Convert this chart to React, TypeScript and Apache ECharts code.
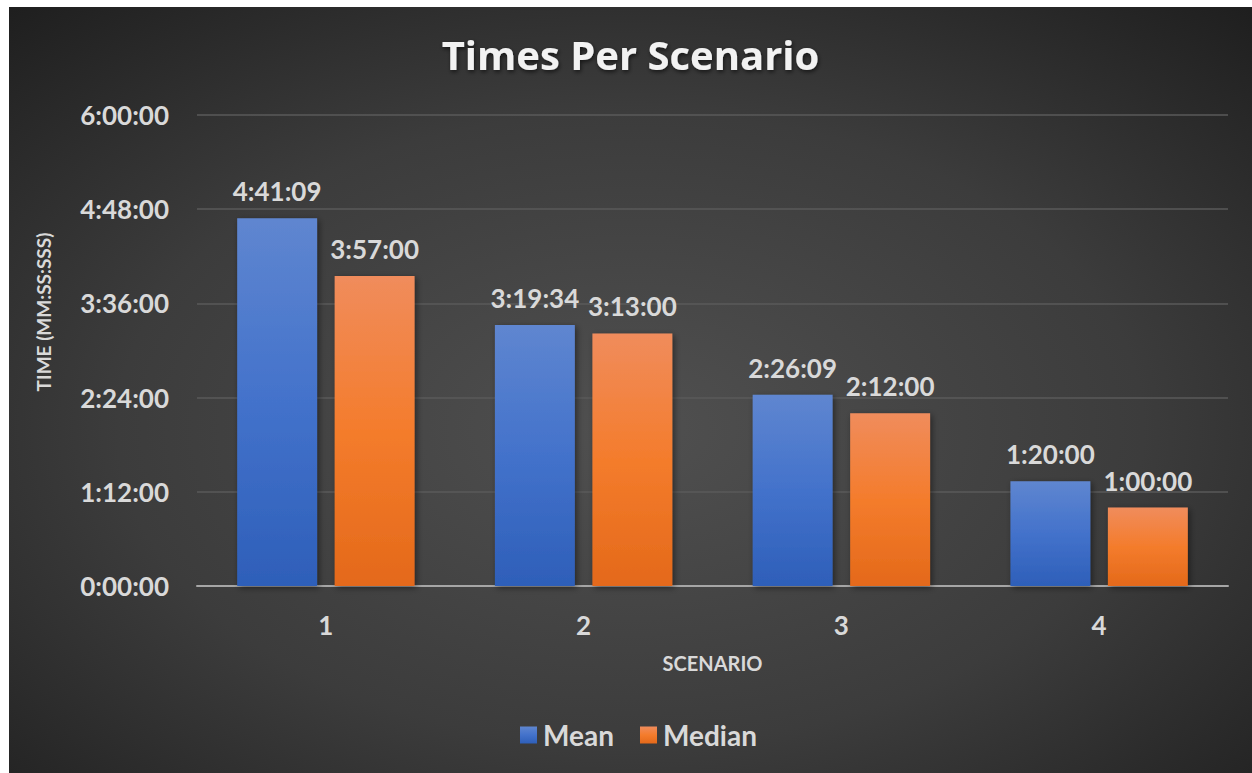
import React, { useEffect, useRef } from "react";
import * as echarts from "echarts";

const categories = ["1", "2", "3", "4"];
// values in seconds
const meanSeconds = [16869, 11974, 8769, 4800];
const medianSeconds = [14220, 11580, 7920, 3600];
const yMin = 0;
const yMax = 21600;
const yInterval = 4320;

function fmt(v: number): string {
  const h = Math.floor(v / 3600);
  const m = Math.floor((v % 3600) / 60);
  const s = Math.round(v % 60);
  return `${h}:${String(m).padStart(2, "0")}:${String(s).padStart(2, "0")}`;
}

const FONT = "Lato";

export default function App() {
  const ref = useRef<HTMLDivElement>(null);
  useEffect(() => {
    if (!ref.current) return;
    const chart = echarts.init(ref.current, null, { renderer: "svg" });
    const labelStyle = {
      show: true,
      position: "top" as const,
      distance: 14,
      color: "#d9d9d9",
      fontFamily: FONT,
      fontWeight: "bold" as const,
      fontSize: 26,
      formatter: (p: any) => fmt(p.value),
    };
    chart.setOption({
      animation: false,
      backgroundColor: new echarts.graphic.RadialGradient(0.5, 0.55, 0.75, [
        { offset: 0, color: "#505050" },
        { offset: 0.55, color: "#3c3c3c" },
        { offset: 1, color: "#1e1e1e" },
      ]),
      title: {
        text: "Times Per Scenario",
        left: "center",
        top: 22,
        textStyle: {
          color: "#f2f2f2",
          fontFamily: "Open Sans",
          fontWeight: "bold",
          fontSize: 40,
          textShadowColor: "rgba(0,0,0,0.6)",
          textShadowBlur: 4,
          textShadowOffsetX: 1,
          textShadowOffsetY: 2,
        },
      },
      graphic: [
        {
          type: "text",
          x: 34,
          y: 305,
          rotation: Math.PI / 2,
          style: {
            text: "TIME (MM:SS:SSS)",
            fill: "#d9d9d9",
            font: `bold 19px ${FONT}`,
            textAlign: "center",
            textVerticalAlign: "middle",
          },
        },
      ],
      legend: {
        bottom: 19,
        left: 506,
        itemWidth: 17,
        itemHeight: 17,
        itemGap: 26,
        icon: "rect",
        textStyle: {
          color: "#d9d9d9",
          fontFamily: FONT,
          fontWeight: "bold",
          fontSize: 28,
          padding: [0, 0, 0, 1],
        },
        data: ["Mean", "Median"],
      },
      grid: {
        left: 188,
        right: 24,
        top: 108,
        bottom: 187,
      },
      xAxis: {
        type: "category",
        data: categories,
        name: "SCENARIO",
        nameLocation: "middle",
        nameGap: 67,
        nameTextStyle: {
          color: "#d9d9d9",
          fontFamily: FONT,
          fontWeight: "bold",
          fontSize: 20,
        },
        axisLine: { lineStyle: { color: "#a6a6a6", width: 2 } },
        axisTick: { show: false },
        axisLabel: {
          color: "#d9d9d9",
          fontFamily: FONT,
          fontWeight: "bold",
          fontSize: 26,
          margin: 26,
        },
      },
      yAxis: {
        type: "value",
        min: yMin,
        max: yMax,
        interval: yInterval,
        axisLine: { show: false },
        axisTick: { show: false },
        splitLine: { lineStyle: { color: "#5a5a5a", width: 1.5 } },
        axisLabel: {
          color: "#d9d9d9",
          fontFamily: FONT,
          fontWeight: "bold",
          fontSize: 26,
          margin: 28,
          formatter: (v: number) => fmt(v),
        },
      },
      series: [
        {
          name: "Mean",
          type: "bar",
          data: meanSeconds,
          barWidth: "31%",
          barGap: "22%",
          itemStyle: {
            color: new echarts.graphic.LinearGradient(0, 0, 0, 1, [
              { offset: 0, color: "#5f86d0" },
              { offset: 0.5, color: "#4372cb" },
              { offset: 1, color: "#2e5fb9" },
            ]),
            shadowColor: "rgba(0,0,0,0.45)",
            shadowBlur: 6,
            shadowOffsetX: 2,
            shadowOffsetY: 2,
          },
          label: labelStyle,
        },
        {
          name: "Median",
          type: "bar",
          data: medianSeconds,
          barWidth: "31%",
          itemStyle: {
            color: new echarts.graphic.LinearGradient(0, 0, 0, 1, [
              { offset: 0, color: "#f08c5c" },
              { offset: 0.5, color: "#f47c2c" },
              { offset: 1, color: "#e4691a" },
            ]),
            shadowColor: "rgba(0,0,0,0.45)",
            shadowBlur: 6,
            shadowOffsetX: 2,
            shadowOffsetY: 2,
          },
          label: labelStyle,
        },
      ],
    });
    return () => chart.dispose();
  }, []);
  return (
    <div
      ref={ref}
      style={{ position: "absolute", left: 9, top: 7, width: 1243, height: 766 }}
    />
  );
}
